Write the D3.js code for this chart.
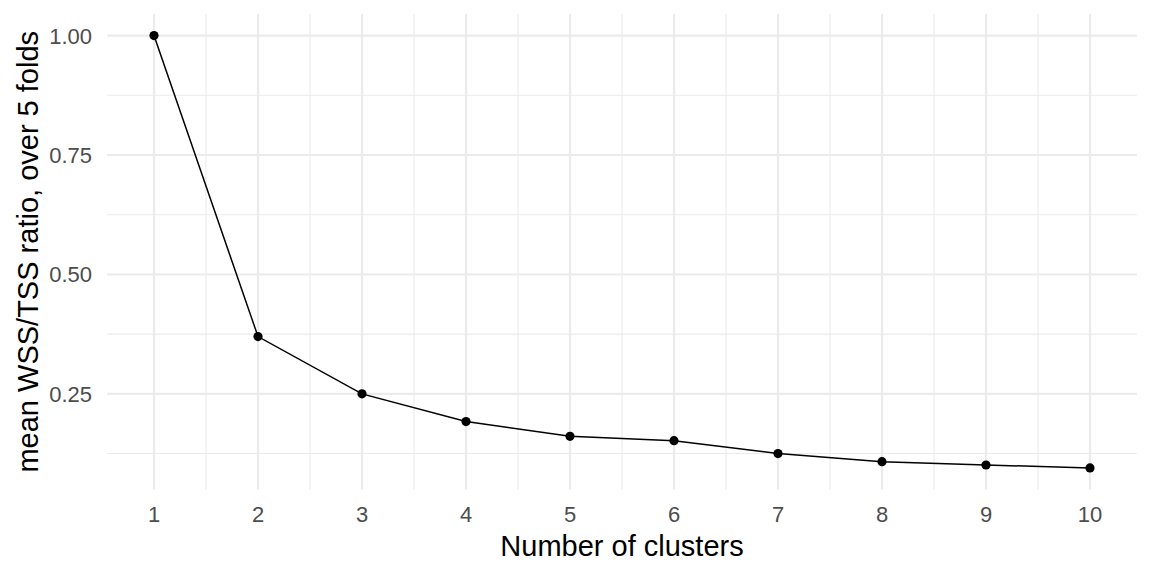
<!DOCTYPE html>
<html>
<head>
<meta charset="utf-8">
<script src="https://cdn.jsdelivr.net/npm/d3@7"></script>
<style>
  html, body { margin: 0; padding: 0; background: #fff; }
  svg { display: block; font-family: "Liberation Sans", Arial, sans-serif; }
  .grid-major { stroke: #ebebeb; stroke-width: 2.1; }
  .grid-minor { stroke: #ebebeb; stroke-width: 1.1; }
  .tick-label { fill: #4d4d4d; font-size: 22px; }
  .axis-title { fill: #000; font-size: 29px; }
</style>
</head>
<body>
<svg id="chart" width="1152" height="576"></svg>
<script>
// ---------- Data ----------
const clusters = [1, 2, 3, 4, 5, 6, 7, 8, 9, 10];
const wssRatio = [1.000, 0.370, 0.250, 0.192, 0.161, 0.152, 0.125, 0.108, 0.101, 0.095];
const yTicks = [0.25, 0.50, 0.75, 1.00];
const yMinor = [0.125, 0.375, 0.625, 0.875];
const xMinor = [1.5, 2.5, 3.5, 4.5, 5.5, 6.5, 7.5, 8.5, 9.5];

const data = clusters.map((k, i) => ({ k, v: wssRatio[i] }));

// ---------- Layout ----------
const svg = d3.select("#chart");
const panel = { left: 107.2, right: 1136.8, top: 14, bottom: 489.5 };

// ggplot-style 5% expansion
const xExt = d3.extent(clusters);
const xPad = (xExt[1] - xExt[0]) * 0.05;
const yExt = d3.extent(wssRatio);
const yPad = (yExt[1] - yExt[0]) * 0.05;

const x = d3.scaleLinear().domain([xExt[0] - xPad, xExt[1] + xPad]).range([panel.left, panel.right]);
const y = d3.scaleLinear().domain([yExt[0] - yPad, yExt[1] + yPad]).range([panel.bottom, panel.top]);

// ---------- Grid ----------
const grid = svg.append("g");
grid.selectAll(".ym").data(yMinor).join("line")
  .attr("class", "grid-minor")
  .attr("x1", panel.left).attr("x2", panel.right)
  .attr("y1", d => y(d)).attr("y2", d => y(d));
grid.selectAll(".xm").data(xMinor).join("line")
  .attr("class", "grid-minor")
  .attr("y1", panel.top).attr("y2", panel.bottom)
  .attr("x1", d => x(d)).attr("x2", d => x(d));
grid.selectAll(".yM").data(yTicks).join("line")
  .attr("class", "grid-major")
  .attr("x1", panel.left).attr("x2", panel.right)
  .attr("y1", d => y(d)).attr("y2", d => y(d));
grid.selectAll(".xM").data(clusters).join("line")
  .attr("class", "grid-major")
  .attr("y1", panel.top).attr("y2", panel.bottom)
  .attr("x1", d => x(d)).attr("x2", d => x(d));

// ---------- Axes labels ----------
svg.append("g").selectAll("text").data(yTicks).join("text")
  .attr("class", "tick-label")
  .attr("x", 92)
  .attr("y", d => y(d))
  .attr("dy", "0.36em")
  .attr("text-anchor", "end")
  .text(d => d3.format(".2f")(d));

svg.append("g").selectAll("text").data(clusters).join("text")
  .attr("class", "tick-label")
  .attr("x", d => x(d))
  .attr("y", 522)
  .attr("text-anchor", "middle")
  .text(d => d);

svg.append("text")
  .attr("class", "axis-title")
  .attr("x", (panel.left + panel.right) / 2)
  .attr("y", 556)
  .attr("text-anchor", "middle")
  .text("Number of clusters");

svg.append("text")
  .attr("class", "axis-title")
  .attr("transform", `translate(38,${(panel.top + panel.bottom) / 2}) rotate(-90)`)
  .attr("text-anchor", "middle")
  .text("mean WSS/TSS ratio, over 5 folds");

// ---------- Line & points ----------
const line = d3.line().x(d => x(d.k)).y(d => y(d.v));
svg.append("path")
  .datum(data)
  .attr("d", line)
  .attr("fill", "none")
  .attr("stroke", "#000")
  .attr("stroke-width", 1.5);

svg.append("g").selectAll("circle").data(data).join("circle")
  .attr("cx", d => x(d.k))
  .attr("cy", d => y(d.v))
  .attr("r", 4.6)
  .attr("fill", "#000");
</script>
</body>
</html>
